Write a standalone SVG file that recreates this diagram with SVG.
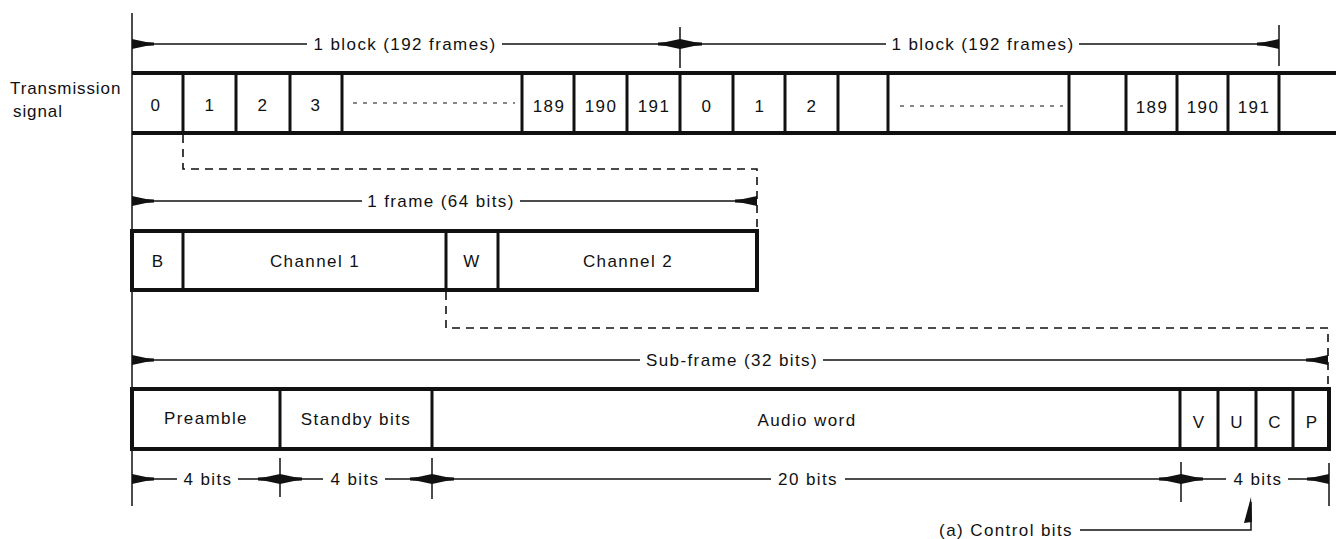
<svg xmlns="http://www.w3.org/2000/svg" width="1336" height="539" viewBox="0 0 1336 539">
<style>
text{font-family:"Liberation Sans",Arial,Helvetica,sans-serif;font-size:17px;letter-spacing:1.4px;fill:#111}
.num{font-size:19px;letter-spacing:1.5px}
.c{text-anchor:middle}
.hl{stroke:#111;stroke-width:4;fill:none}
.vl{stroke:#111;stroke-width:3;fill:none}
.dim{stroke:#111;stroke-width:1.5;fill:none;marker-end:url(#ah)}
.tick{stroke:#111;stroke-width:1.5;fill:none}
.dash{stroke:#111;stroke-width:1.6;fill:none;stroke-dasharray:8 6}
.dot{stroke:#111;stroke-width:1.2;fill:none;stroke-dasharray:4 6}
</style>
<defs>
<marker id="ah" markerUnits="userSpaceOnUse" viewBox="0 0 22 10" refX="22" refY="5" markerWidth="22" markerHeight="10" orient="auto">
<path d="M0,3.5 L8,3 L22,0 L22,10 L8,7 L0,6.5 Z" fill="#111"/>
</marker>
</defs>
<rect width="1336" height="539" fill="#fff"/>

<g id="axis">
<line class="tick" x1="132" y1="13" x2="132" y2="506" stroke-width="2"/>
</g>

<g id="label-transmission">
<text x="10" y="94" style="letter-spacing:0.9px">Transmission</text>
<text x="13" y="117" style="letter-spacing:0.9px">signal</text>
</g>

<g id="transmission-row">
<line class="hl" x1="132" y1="73" x2="1336" y2="73"/>
<line class="hl" x1="132" y1="133" x2="1336" y2="133"/>
<g class="vl">
<line x1="183" y1="73" x2="183" y2="133"/>
<line x1="236" y1="73" x2="236" y2="133"/>
<line x1="290" y1="73" x2="290" y2="133"/>
<line x1="342" y1="73" x2="342" y2="133"/>
<line x1="522" y1="73" x2="522" y2="133"/>
<line x1="574" y1="73" x2="574" y2="133"/>
<line x1="627" y1="73" x2="627" y2="133"/>
<line x1="680" y1="73" x2="680" y2="133"/>
<line x1="733" y1="73" x2="733" y2="133"/>
<line x1="785" y1="73" x2="785" y2="133"/>
<line x1="838" y1="73" x2="838" y2="133"/>
<line x1="888" y1="73" x2="888" y2="133"/>
<line x1="1069" y1="73" x2="1069" y2="133"/>
<line x1="1126" y1="73" x2="1126" y2="133"/>
<line x1="1177" y1="73" x2="1177" y2="133"/>
<line x1="1228" y1="73" x2="1228" y2="133"/>
<line x1="1279" y1="73" x2="1279" y2="133"/>
</g>
<line class="dot" x1="353" y1="103" x2="515" y2="103"/>
<line class="dot" x1="900" y1="106" x2="1063" y2="106"/>
<g class="num c">
<text x="156" y="111">0</text>
<text x="210" y="111">1</text>
<text x="263" y="111">2</text>
<text x="316" y="111">3</text>
<text x="549" y="112">189</text>
<text x="601" y="112">190</text>
<text x="654" y="112">191</text>
<text x="707" y="112">0</text>
<text x="760" y="112">1</text>
<text x="812" y="112">2</text>
<text x="1152" y="113">189</text>
<text x="1203" y="113">190</text>
<text x="1254" y="113">191</text>
</g>
</g>

<g id="frame-row">
<rect class="hl" x="132" y="231" width="625" height="59" stroke-width="3.5"/>
<line class="vl" x1="183" y1="231" x2="183" y2="290"/>
<line class="vl" x1="446" y1="231" x2="446" y2="290"/>
<line class="vl" x1="498" y1="231" x2="498" y2="290"/>
<text class="c" x="158" y="267">B</text>
<text class="c" x="315" y="267">Channel 1</text>
<text class="c" x="472" y="267">W</text>
<text class="c" x="628" y="267">Channel 2</text>
</g>

<g id="subframe-row">
<rect class="hl" x="132" y="389" width="1197" height="60" stroke-width="3.5"/>
<line class="vl" x1="280" y1="389" x2="280" y2="449"/>
<line class="vl" x1="432" y1="389" x2="432" y2="449"/>
<line class="vl" x1="1180" y1="389" x2="1180" y2="449"/>
<line class="vl" x1="1218" y1="389" x2="1218" y2="449"/>
<line class="vl" x1="1256" y1="389" x2="1256" y2="449"/>
<line class="vl" x1="1293" y1="389" x2="1293" y2="449"/>
<text class="c" x="206" y="424">Preamble</text>
<text class="c" x="356" y="425">Standby bits</text>
<text class="c" x="807" y="426">Audio word</text>
<text class="c" x="1199" y="428">V</text>
<text class="c" x="1237" y="428">U</text>
<text class="c" x="1275" y="428">C</text>
<text class="c" x="1312" y="428">P</text>
</g>

<g id="connectors">
<line class="tick" x1="680" y1="27" x2="680" y2="68"/>
<line class="tick" x1="1279" y1="25" x2="1279" y2="66"/>
<line class="dim" x1="307" y1="44" x2="132" y2="44"/>
<line class="dim" x1="502" y1="44" x2="680" y2="44"/>
<line class="dim" x1="886" y1="44" x2="680" y2="44"/>
<line class="dim" x1="1079" y1="44" x2="1279" y2="44"/>
<text class="c" x="405" y="50">1 block (192 frames)</text>
<text class="c" x="983" y="50">1 block (192 frames)</text>

<path class="dash" d="M183,135 V169 H757 V231"/>
<line class="dim" x1="362" y1="201" x2="132" y2="201"/>
<line class="dim" x1="520" y1="201" x2="757" y2="201"/>
<text class="c" x="441" y="207">1 frame (64 bits)</text>

<path class="dash" d="M446,292 V328 H1328 V389"/>
<line class="dim" x1="640" y1="360" x2="132" y2="360"/>
<line class="dim" x1="823" y1="360" x2="1328" y2="360"/>
<text class="c" x="732" y="366">Sub-frame (32 bits)</text>

<line class="tick" x1="280" y1="458" x2="280" y2="497"/>
<line class="tick" x1="432" y1="458" x2="432" y2="499"/>
<line class="tick" x1="1181" y1="462" x2="1181" y2="502"/>
<line class="tick" x1="1329" y1="463" x2="1329" y2="506"/>
<line class="dim" x1="177" y1="479" x2="132" y2="479"/>
<line class="dim" x1="238" y1="479" x2="280" y2="479"/>
<line class="dim" x1="323" y1="479" x2="280" y2="479"/>
<line class="dim" x1="385" y1="479" x2="432" y2="479"/>
<line class="dim" x1="771" y1="479" x2="432" y2="479"/>
<line class="dim" x1="845" y1="479" x2="1181" y2="479"/>
<line class="dim" x1="1226" y1="479" x2="1181" y2="479"/>
<line class="dim" x1="1288" y1="479" x2="1329" y2="479"/>
<text class="c" x="208" y="485">4 bits</text>
<text class="c" x="355" y="485">4 bits</text>
<text class="c" x="808" y="485">20 bits</text>
<text class="c" x="1258" y="485">4 bits</text>

<path class="tick" d="M1080,530 H1251 V502"/>
<polygon points="1251,497 1252,522 1244,523" fill="#111"/>
<text x="1073" y="536" text-anchor="end">(a) Control bits</text>
</g>
</svg>
